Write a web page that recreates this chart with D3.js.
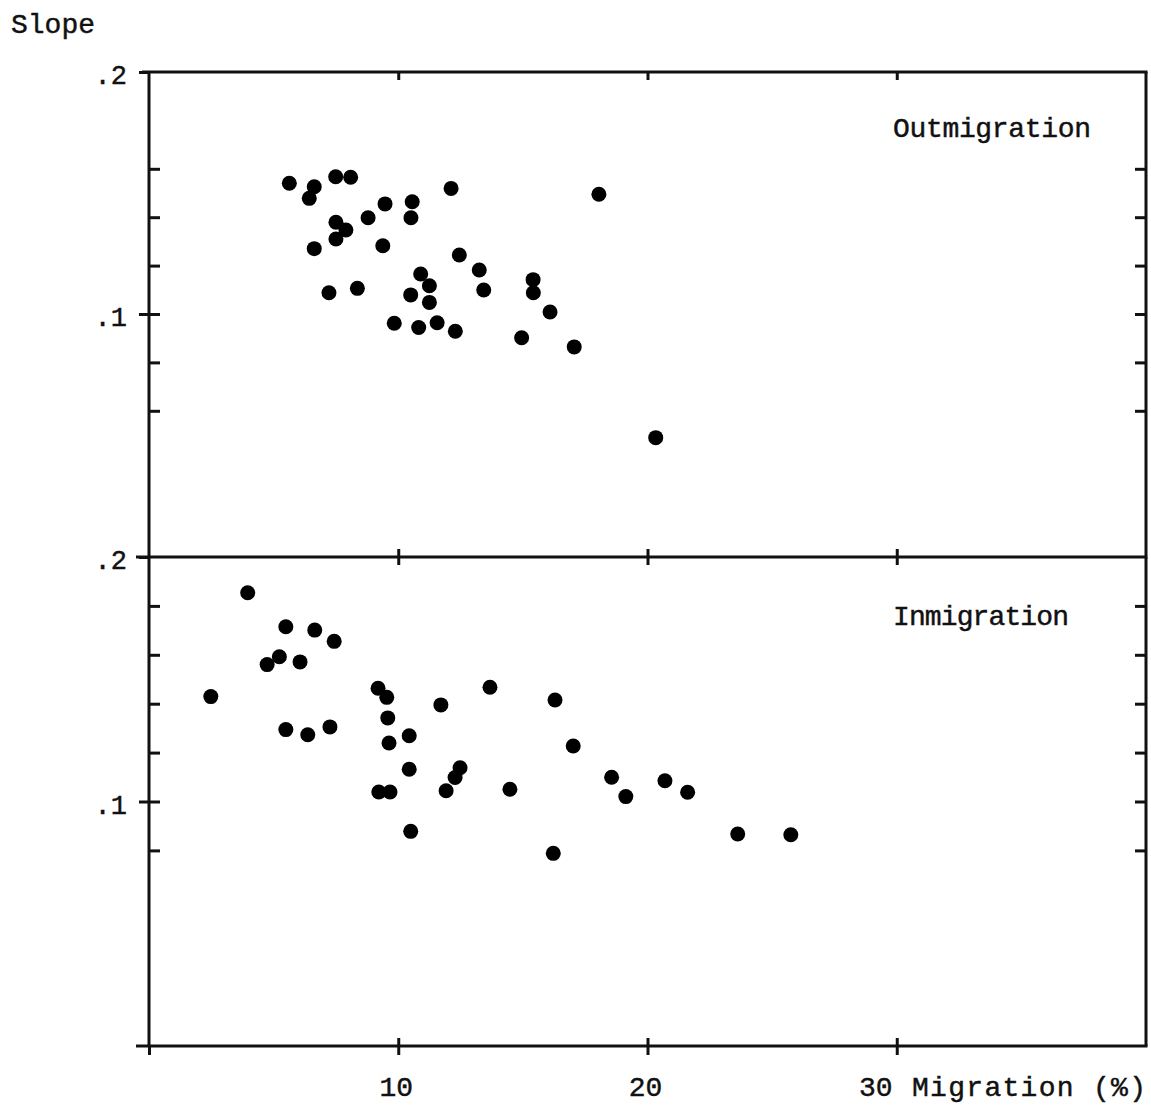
<!DOCTYPE html>
<html>
<head>
<meta charset="utf-8">
<script src="https://cdn.jsdelivr.net/npm/d3@7"></script>
<style>
  html, body { margin: 0; padding: 0; background: #fff; }
  svg { display: block; }
  text { font-family: "Liberation Mono", "DejaVu Sans Mono", monospace; fill: #111; stroke: #111; stroke-width: 0.45px; }
</style>
</head>
<body>
<svg id="chart" width="1151" height="1107"></svg>
<script>
// ---- data ----
const outX = [5.63, 6.63, 6.43, 7.49, 8.09, 12.12, 9.47, 10.56, 8.79, 10.51, 7.50, 7.90, 7.50, 6.63, 9.38,
              12.45, 13.25, 10.90, 11.25, 13.43, 7.22, 8.36, 10.50, 11.25, 9.84, 10.82, 11.56, 12.29,
              18.05, 15.41, 15.42, 16.09, 14.95, 17.06, 20.33];
const outY = [0.1540, 0.1526, 0.1478, 0.1567, 0.1565, 0.1519, 0.1455, 0.1464, 0.1398, 0.1398, 0.1379, 0.1347,
              0.1310, 0.1270, 0.1282, 0.1244, 0.1182, 0.1165, 0.1117, 0.1099, 0.1088, 0.1106, 0.1079, 0.1048,
              0.0962, 0.0944, 0.0964, 0.0929, 0.1495, 0.1142, 0.1088, 0.1008, 0.0902, 0.0864, 0.0489];
const inX = [3.96, 5.49, 6.65, 7.43, 5.23, 4.74, 6.06, 2.48, 9.19, 9.54, 9.58, 11.71, 10.44, 9.63, 5.49, 6.37,
             7.26, 10.44, 12.48, 12.28, 11.92, 9.22, 9.67, 13.68, 16.29, 17.02, 14.48, 18.56, 19.13, 20.70,
             21.61, 10.50, 16.22, 23.62, 25.75];
const inY = [0.1854, 0.1715, 0.1701, 0.1655, 0.1592, 0.1560, 0.1571, 0.1429, 0.1463, 0.1426, 0.1342, 0.1395,
             0.1269, 0.1239, 0.1294, 0.1273, 0.1305, 0.1132, 0.1138, 0.1098, 0.1044, 0.1039, 0.1039, 0.1467,
             0.1415, 0.1227, 0.1050, 0.1099, 0.1020, 0.1085, 0.1038, 0.0878, 0.0788, 0.0867, 0.0864];
const xTicks = [10, 20, 30];
const yMinorTop = [0.16, 0.14, 0.12, 0.08, 0.06];
const yMinorBottom = [0.18, 0.16, 0.14, 0.12, 0.08];
const yLabelTicks = [0.1, 0.2];
const panelLabels = ["Outmigration", "Inmigration"];
const yTitle = "Slope";
const xTitle = "Migration (%)";

// ---- layout ----
const svg = d3.select("#chart");
const left = 149, right = 1146;
const x = d3.scaleLinear().domain([0, 40]).range([left, right]);
const yTop = d3.scaleLinear().domain([0, 0.2]).range([556, 72]);
const yBot = d3.scaleLinear().domain([0, 0.2]).range([1046, 557]);
const fmt = d => d3.format(".1f")(d).replace(/^0/, "");
const SW = 3;

function styleAxis(g) {
  g.select(".domain").remove();
  g.selectAll(".tick line").attr("stroke", "#111").attr("stroke-width", SW);
  g.selectAll(".tick text").remove();
}

function panel(y, xs, ys, minor, label, labelBaseline) {
  svg.append("g").attr("transform", `translate(${left},0)`)
    .call(d3.axisRight(y).tickValues(minor.concat([0.1])).tickSize(11)).call(styleAxis);
  svg.append("g").attr("transform", `translate(${left},0)`)
    .call(d3.axisLeft(y).tickValues(yLabelTicks).tickSize(10)).call(styleAxis);
  svg.append("g").attr("transform", `translate(${right},0)`)
    .call(d3.axisLeft(y).tickValues(minor.concat([0.1])).tickSize(11)).call(styleAxis);
  svg.append("g").selectAll("text").data(yLabelTicks).join("text")
    .attr("x", 127).attr("y", d => y(d) + 12)
    .attr("text-anchor", "end").attr("font-size", 27).text(fmt);
  const y0 = y.range()[0], y1 = y.range()[1];
  svg.append("line").attr("x1", left).attr("x2", left).attr("y1", y1).attr("y2", y0)
    .attr("stroke", "#111").attr("stroke-width", SW);
  svg.append("line").attr("x1", right).attr("x2", right).attr("y1", y1).attr("y2", y0)
    .attr("stroke", "#111").attr("stroke-width", SW);
  svg.append("g").selectAll("circle").data(xs.map((v, i) => [v, ys[i]])).join("circle")
    .attr("cx", d => x(d[0])).attr("cy", d => y(d[1])).attr("r", 7.5).attr("fill", "#000");
  svg.append("text").attr("x", 893).attr("y", labelBaseline)
    .attr("font-size", 28).attr("textLength", label === "Outmigration" ? 198 : 176)
    .text(label);
}

panel(yTop, outX, outY, yMinorTop, panelLabels[0], 137);
panel(yBot, inX, inY, yMinorBottom, panelLabels[1], 625);

[72, 557, 1046].forEach(yy => {
  svg.append("line").attr("x1", yy === 72 ? 142 : 136).attr("x2", right + 1.5)
    .attr("y1", yy).attr("y2", yy).attr("stroke", "#111").attr("stroke-width", SW);
});

svg.append("g").attr("transform", "translate(0,72)")
  .call(d3.axisBottom(x).tickValues(xTicks).tickSize(8)).call(styleAxis);
svg.append("g").attr("transform", "translate(0,557)")
  .call(d3.axisBottom(x).tickValues(xTicks).tickSize(8)).call(styleAxis);
svg.append("g").attr("transform", "translate(0,557)")
  .call(d3.axisTop(x).tickValues(xTicks).tickSize(8)).call(styleAxis);
svg.append("g").attr("transform", "translate(0,1046)")
  .call(d3.axisBottom(x).tickValues([0].concat(xTicks)).tickSize(9)).call(styleAxis);
svg.append("g").attr("transform", "translate(0,1046)")
  .call(d3.axisTop(x).tickValues(xTicks).tickSize(8)).call(styleAxis);

svg.append("g").selectAll("text").data(xTicks).join("text")
  .attr("x", d => d === 30 ? x(d) - 21 : x(d) - 2)
  .attr("y", 1096).attr("text-anchor", "middle").attr("font-size", 28)
  .text(d => d);

svg.append("text").attr("x", 912).attr("y", 1096).attr("font-size", 28)
  .attr("textLength", 234).text(xTitle);
svg.append("text").attr("x", 11).attr("y", 33).attr("font-size", 28)
  .attr("textLength", 84).text(yTitle);
</script>
</body>
</html>
